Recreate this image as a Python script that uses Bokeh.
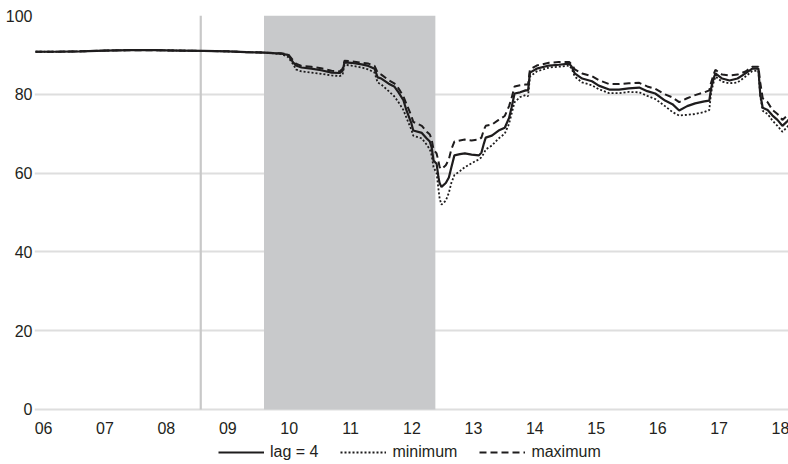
from bokeh.plotting import figure
from bokeh.models import Legend, LegendItem, FixedTicker, Range1d
from bokeh.core.properties import value
from bokeh.embed import file_html
from bokeh.resources import INLINE

# ---- data (decimal years) ----
dates = [2005.87, 2006.2, 2006.6, 2007.0, 2007.4, 2007.8, 2008.2, 2008.6, 2009.0, 2009.3, 2009.59,
         2009.87, 2009.98, 2010.07, 2010.11, 2010.20, 2010.36, 2010.52, 2010.69, 2010.82, 2010.87,
         2010.90, 2011.01, 2011.18, 2011.29, 2011.39, 2011.44, 2011.50, 2011.62, 2011.71, 2011.78,
         2011.86, 2011.91, 2011.99, 2012.02, 2012.16, 2012.24, 2012.29, 2012.32, 2012.35, 2012.40,
         2012.43, 2012.45, 2012.48, 2012.55, 2012.60, 2012.64, 2012.69, 2012.78, 2012.86, 2012.97,
         2013.09, 2013.13, 2013.17, 2013.20, 2013.30, 2013.41, 2013.51, 2013.58, 2013.62, 2013.67,
         2013.76, 2013.85, 2013.89, 2013.92, 2014.03, 2014.23, 2014.39, 2014.56, 2014.60, 2014.65,
         2014.77, 2014.93, 2015.04, 2015.21, 2015.37, 2015.53, 2015.70, 2015.83, 2015.96, 2016.12,
         2016.24, 2016.35, 2016.48, 2016.61, 2016.76, 2016.84, 2016.87, 2016.91, 2016.94, 2017.05,
         2017.17, 2017.30, 2017.43, 2017.54, 2017.64, 2017.67, 2017.71, 2017.79, 2017.87, 2017.95,
         2018.03, 2018.10, 2018.16]

lag4 = [90.8, 90.8, 90.9, 91.1, 91.2, 91.2, 91.1, 91.0, 90.9, 90.7, 90.6,
        90.3, 90.0, 88.0, 87.3, 86.8, 86.5, 86.1, 85.5, 85.4, 86.0,
        88.1, 88.0, 87.6, 87.2, 86.5, 84.3, 84.0, 82.7, 82.0, 80.5,
        78.5, 75.9, 72.6, 70.8, 70.2, 68.8, 68.0, 66.5, 63.2, 62.4,
        59.0, 57.4, 56.5, 57.5, 58.9, 61.4, 64.5, 64.8, 65.0, 64.7,
        64.5, 65.2, 67.5, 69.0, 69.5, 70.8, 71.5, 74.0, 76.6, 80.2,
        80.5, 81.0, 81.0, 85.5, 86.5, 87.3, 87.5, 87.8, 87.0, 85.3,
        84.0, 83.3, 82.2, 81.2, 81.2, 81.5, 81.7, 80.8, 80.2, 78.4,
        77.5, 75.9, 77.0, 77.7, 78.2, 78.4, 81.5, 84.0, 85.3, 84.0,
        83.5, 84.0, 85.3, 86.5, 86.5, 80.0, 76.6, 76.0, 74.6, 73.5,
        72.0, 73.0, 74.0]

minimum = [90.8, 90.8, 90.9, 91.1, 91.2, 91.2, 91.1, 91.0, 90.9, 90.7, 90.6,
           90.2, 89.5, 87.5, 86.3, 85.8, 85.5, 85.2, 84.8, 84.6, 85.0,
           87.5, 87.3, 86.8, 86.3, 85.5, 83.0, 82.5, 80.8, 79.5, 78.0,
           76.0, 74.0, 71.0, 69.5, 68.8, 67.2, 66.0, 64.5, 61.5, 60.0,
           56.0, 53.5, 52.0, 53.0, 55.0, 57.5, 59.5, 60.5, 61.5, 62.5,
           63.5, 64.0, 65.0, 66.0, 67.0, 68.8, 70.0, 72.5, 75.0, 78.0,
           79.3, 79.8, 79.5, 84.5, 85.8, 86.8, 87.0, 87.3, 86.5, 84.5,
           83.0, 82.3, 81.3, 80.3, 80.3, 80.6, 80.5, 79.6, 78.8, 77.0,
           75.5, 74.6, 74.8, 75.0, 75.5, 76.0, 80.5, 83.0, 84.5, 83.2,
           82.8, 83.0, 84.5, 85.9, 86.0, 79.5, 75.8, 75.0, 73.3, 72.0,
           70.5, 71.5, 72.8]

maximum = [90.8, 90.8, 90.9, 91.1, 91.2, 91.2, 91.1, 91.0, 90.9, 90.7, 90.6,
           90.4, 90.2, 88.5, 87.8, 87.2, 87.0, 86.6, 86.0, 85.8, 86.5,
           88.5, 88.4, 88.0, 87.8, 87.2, 85.5, 85.0, 83.6, 82.8, 81.5,
           79.5, 77.5, 74.5, 73.0, 72.0, 70.5, 69.8, 68.5, 66.0, 65.0,
           63.0, 61.5, 61.0, 62.0, 63.5, 66.0, 68.0, 68.3, 68.5, 68.3,
           68.5, 69.0, 71.0, 72.0, 72.3, 73.5, 74.5, 77.0, 79.0, 82.0,
           82.3, 82.5, 82.5, 86.3, 87.3, 88.0, 88.2, 88.2, 87.6, 86.3,
           85.3, 84.6, 83.6, 82.6, 82.6, 82.8, 82.9, 82.0, 81.4, 80.0,
           79.2, 78.0, 79.0, 79.8, 80.5, 81.0, 83.0, 85.0, 86.2, 85.0,
           84.8, 85.0, 85.8, 87.0, 87.0, 83.0, 79.0, 78.0, 76.0, 75.0,
           73.5, 74.5, 75.5]

assert len(dates) == len(lag4) == len(minimum) == len(maximum), (len(dates), len(lag4), len(minimum), len(maximum))

year_ticks = list(range(2006, 2019))
year_labels = ["06", "07", "08", "09", "10", "11", "12", "13", "14", "15", "16", "17", "18"]
y_ticks = [0, 20, 40, 60, 80, 100]
y_min, y_max = 0, 100

event_line = 2008.56          # vertical marker
band_start, band_end = 2009.59, 2012.38   # shaded period

FONT = "Liberation Sans"
TXT = "#231f20"
INK = "#1e1c1d"

# frame spans to the bottom of the picture; the area below 0 carries the
# year labels and the legend
p = figure(width=788, height=464, output_backend="svg", toolbar_location=None,
           x_range=Range1d(2005.853, 2018.13), y_range=Range1d(-13.96, 100),
           min_border_left=34, min_border_right=0, min_border_top=15, min_border_bottom=0)
p.outline_line_color = None
p.background_fill_color = "white"
p.xaxis.visible = False

# grids
p.xgrid.grid_line_color = None
p.ygrid.ticker = FixedTicker(ticks=y_ticks)
p.ygrid.grid_line_color = "#dedede"
p.ygrid.grid_line_width = 1.8

# shaded band and vertical line
p.quad(left=[band_start], right=[band_end], bottom=[y_min], top=[y_max],
       fill_color="#c8c9cb", line_color=None)
p.segment(x0=[event_line], y0=[y_min], x1=[event_line], y1=[y_max],
          line_color="#c8c8c8", line_width=2.2)

r_max = p.line(dates, maximum, line_color=INK, line_width=2, line_dash="7 4")
r_min = p.line(dates, minimum, line_color=INK, line_width=1.8, line_dash="2 2")
r_lag = p.line(dates, lag4, line_color=INK, line_width=2.2)

# x tick labels (years) under the zero line
p.text(x=year_ticks, y=[y_min] * len(year_ticks), text=year_labels,
       text_font=value(FONT), text_font_size="16px", text_color=TXT,
       text_align="center", text_baseline="middle", y_offset=19)

ya = p.yaxis[0]
ya.ticker = FixedTicker(ticks=y_ticks)
ya.major_tick_line_color = None
ya.minor_tick_line_color = None
ya.major_tick_out = 0
ya.major_tick_in = 0
ya.minor_tick_out = 0
ya.axis_line_color = None
ya.major_label_standoff = 2
ya.major_label_text_font = FONT
ya.major_label_text_font_size = "16px"
ya.major_label_text_color = TXT

legend = Legend(items=[LegendItem(label="lag = 4", renderers=[r_lag]),
                       LegendItem(label="minimum", renderers=[r_min]),
                       LegendItem(label="maximum", renderers=[r_max])],
                orientation="horizontal", location=(184, 3),
                border_line_color=None, background_fill_alpha=0,
                label_text_font=FONT, label_text_font_size="16px", label_text_color=TXT,
                glyph_width=46, glyph_height=16, label_height=16, label_standoff=6,
                spacing=22, padding=0, margin=0)
p.add_layout(legend, "center")

open("out.html", "w").write(file_html(p, INLINE))
